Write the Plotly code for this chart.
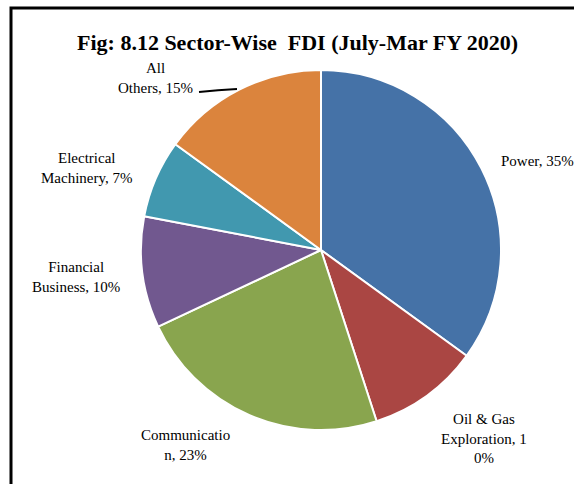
import plotly.graph_objects as go

# Sector-wise FDI shares, July-March FY 2020 (percent)
sectors = ["Power", "Oil & Gas Exploration", "Communication",
           "Financial Business", "Electrical Machinery", "All Others"]
shares = [35, 10, 23, 10, 7, 15]
colors = ["#4572A7", "#AA4643", "#89A54E", "#71588F", "#4198AF", "#DB843D"]

# character positions where each wrapped data label breaks onto a new line
label_breaks = [[], [10, 24], [12], [10], [11], [4]]

W, H = 574, 484


def px(x):
    return x / W


def py(y):
    return 1 - y / H


def wrap(text, breaks):
    parts, start = [], 0
    for b in breaks + [len(text)]:
        parts.append(text[start:b].strip())
        start = b
    return "<br>".join(parts)


fig = go.Figure(go.Pie(
    labels=sectors,
    values=shares,
    sort=False,
    direction="clockwise",
    rotation=0,
    textinfo="none",
    hoverinfo="label+percent",
    marker=dict(colors=colors, line=dict(color="white", width=2)),
    domain=dict(x=[px(141), px(501)], y=[py(430), py(70)]),
    showlegend=False,
))

# label anchor points (pixel centres) and alignment for each slice
label_pos = [(499, 161, "left"), (484, 438, "center"), (185, 445, "center"),
             (76, 277, "center"), (87, 168, "center"), (155, 78, "center")]

font = dict(family="Liberation Serif, Times New Roman, serif", size=15, color="black")
annotations = []
for name, v, brk, (x, y, anchor) in zip(sectors, shares, label_breaks, label_pos):
    annotations.append(dict(
        text=wrap(f"{name}, {v}%", brk), x=px(x), y=py(y),
        xref="paper", yref="paper", xanchor=anchor, yanchor="middle",
        showarrow=False, align="center", font=font,
    ))

annotations.append(dict(
    text="<b>Fig: 8.12 Sector-Wise  FDI (July-Mar FY 2020)</b>",
    x=px(297), y=py(42), xref="paper", yref="paper",
    xanchor="center", yanchor="middle", showarrow=False,
    font=dict(family="Liberation Serif, Times New Roman, serif", size=22, color="black"),
))

shapes = [
    # chart frame (top and left edges)
    dict(type="path", xref="paper", yref="paper",
         path=f"M {px(11)} {py(484)} L {px(11)} {py(8)} L {px(574)} {py(8)}",
         line=dict(color="black", width=3)),
    # leader line for the "All Others" label
    dict(type="path", xref="paper", yref="paper",
         path=f"M {px(199)} {py(92)} Q {px(218)} {py(90)} {px(237)} {py(89)}",
         line=dict(color="black", width=2)),
]

fig.update_layout(
    width=W, height=H,
    margin=dict(l=0, r=0, t=0, b=0),
    paper_bgcolor="white",
    plot_bgcolor="white",
    annotations=annotations,
    shapes=shapes,
)

fig.write_html("out.html")
